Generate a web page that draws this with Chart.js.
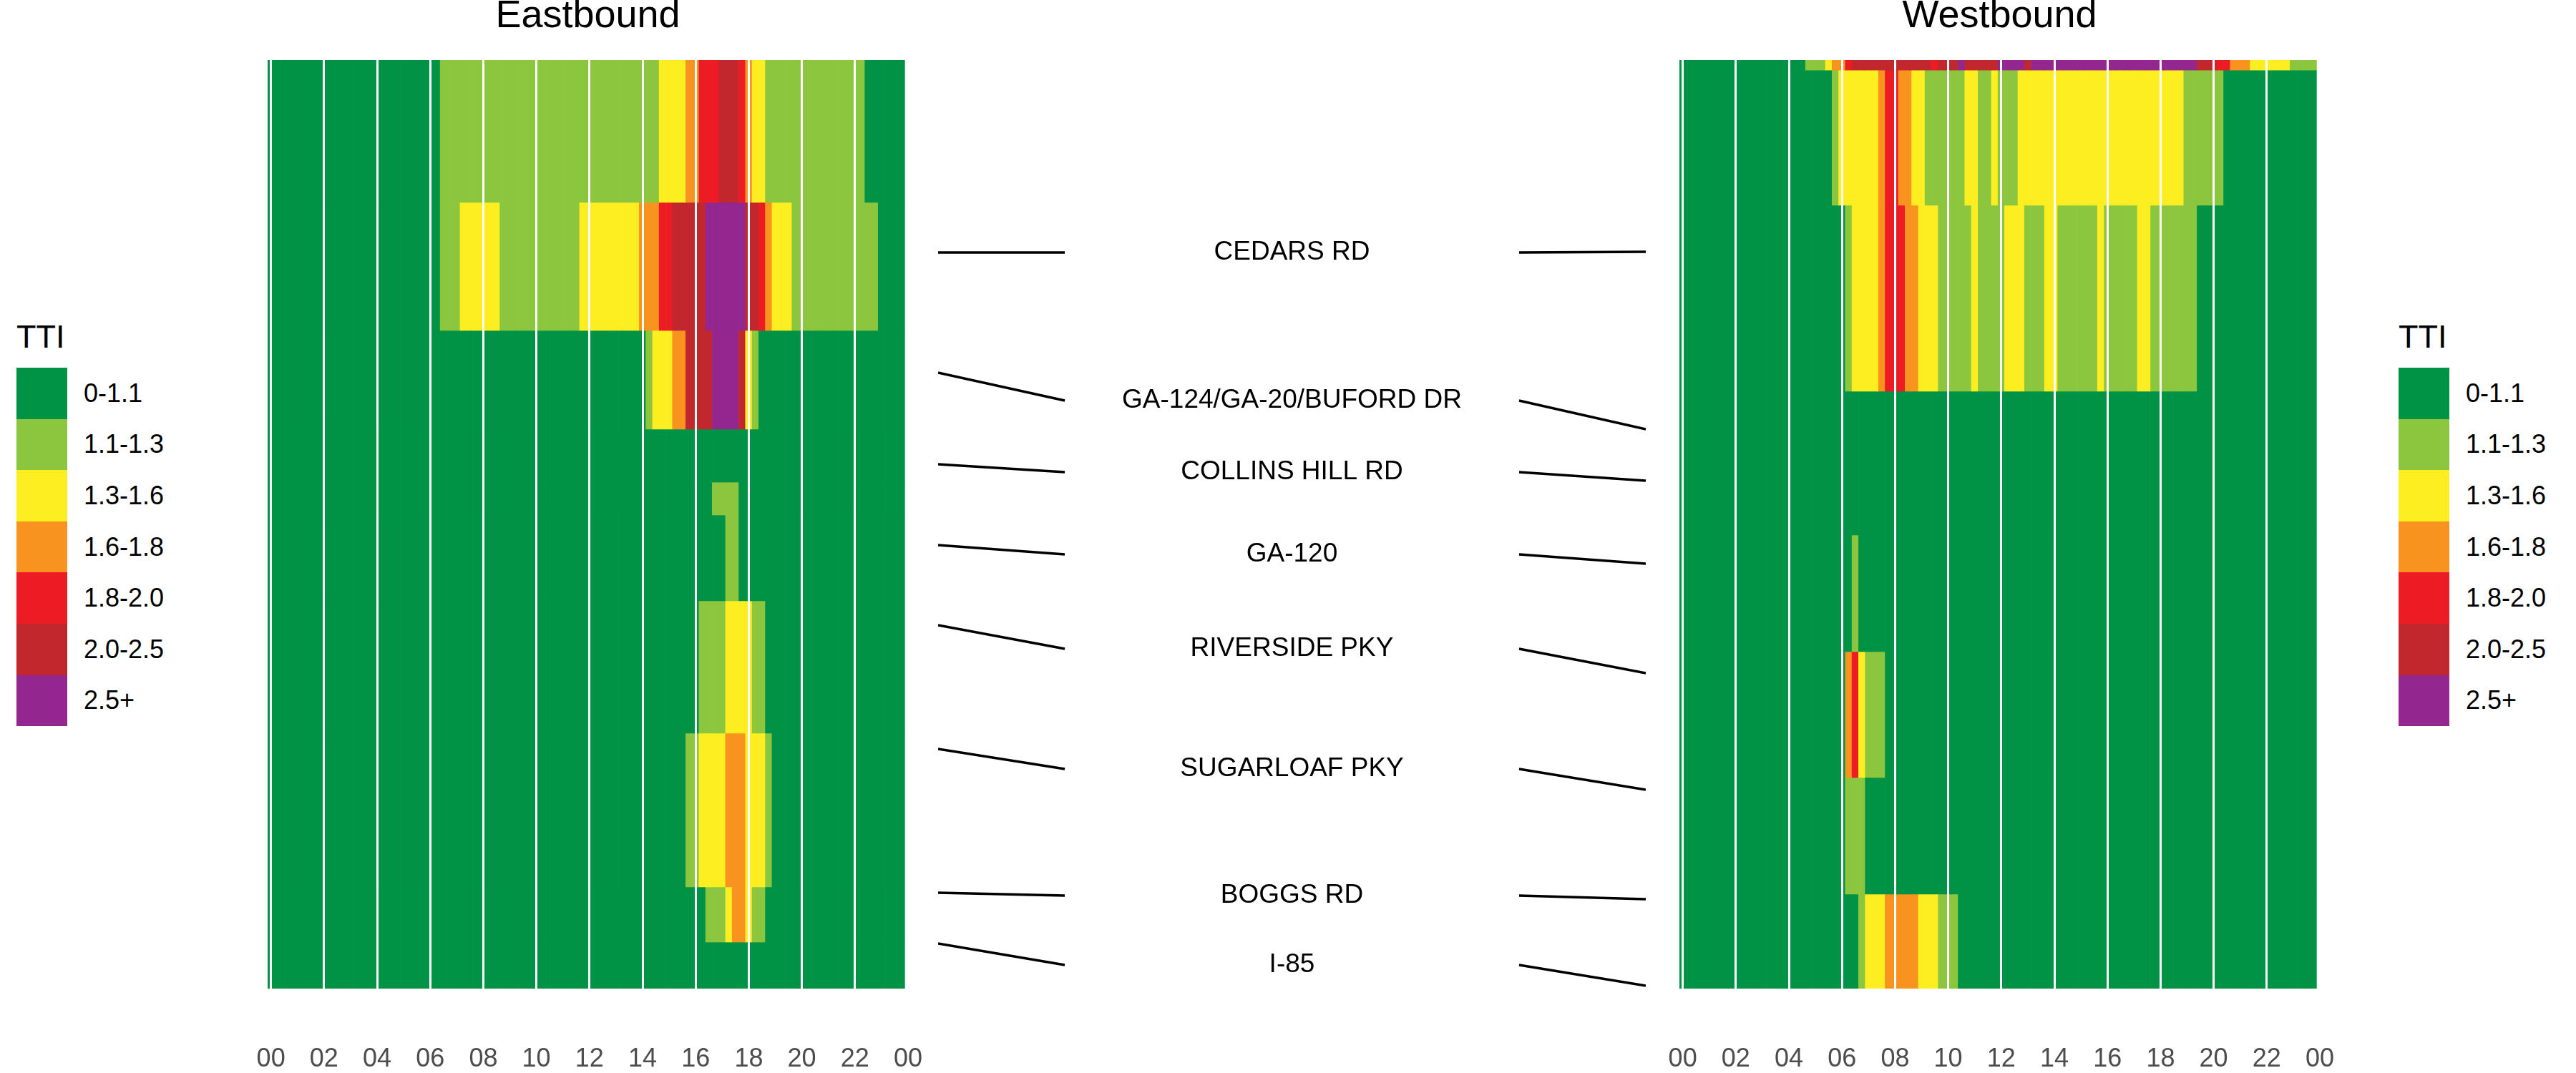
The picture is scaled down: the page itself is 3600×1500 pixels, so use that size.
<!DOCTYPE html>
<html>
<head>
<meta charset="utf-8">
<script src="https://cdn.jsdelivr.net/npm/chart.js@4.4.1/dist/chart.umd.min.js"></script>
<style>
  html, body { margin:0; padding:0; background:#fff; width:3600px; height:1500px; overflow:hidden;
    font-family:"Liberation Sans", Arial, sans-serif; }
  #wrap { position:relative; width:3600px; height:1500px; }
  canvas { position:absolute; }
  .legTitle { position:absolute; font-size:45px; line-height:45px; color:#000; white-space:nowrap; }
  .legRow { position:absolute; display:flex; align-items:center; height:71.6px; }
  .legBox { width:71px; height:71.6px; flex:none; }
  .legLab { font-size:36px; color:#000; margin-left:23px; white-space:nowrap; }
</style>
</head>
<body>
<div id="wrap">
  <canvas id="east"></canvas>
  <canvas id="mid"></canvas>
  <canvas id="west"></canvas>
</div>
<script>
// ---------- data ----------
const ttiLabels = ['0-1.1', '1.1-1.3', '1.3-1.6', '1.6-1.8', '1.8-2.0', '2.0-2.5', '2.5+'];
const ttiColors = ['#009245', '#8CC63F', '#FCEE21', '#F7931E', '#ED1C24', '#C1272D', '#93278F'];
const hourLabels = ['00','02','04','06','08','10','12','14','16','18','20','22','00'];

// 15-minute bins (tile centres, hours of day)
const timeBins = Array.from({length: 96}, (_, i) => i / 4);

// Eastbound: segment boundaries (miles, top to bottom) and TTI class per 15-min bin (one digit per bin)
const eastBounds = [12.98, 10.99, 9.20, 7.82, 7.08, 6.62, 5.42, 3.57, 1.42, 0.65, 0];
const eastTTI = [
  '00000000 00000000 00000000 00111111 11111111 11111111 11111111 11122223 34445554 32211111 11111111 11000000',
  '00000000 00000000 00000000 00111222 22211111 11111112 22222222 33344555 55666666 55432221 11111111 11110000',
  '00000000 00000000 00000000 00000000 00000000 00000000 00000000 01222335 55566665 21000000 00000000 00000000',
  '00000000 00000000 00000000 00000000 00000000 00000000 00000000 00000000 00000000 00000000 00000000 00000000',
  '00000000 00000000 00000000 00000000 00000000 00000000 00000000 00000000 00011110 00000000 00000000 00000000',
  '00000000 00000000 00000000 00000000 00000000 00000000 00000000 00000000 00000110 00000000 00000000 00000000',
  '00000000 00000000 00000000 00000000 00000000 00000000 00000000 00000000 01111222 21100000 00000000 00000000',
  '00000000 00000000 00000000 00000000 00000000 00000000 00000000 00000001 12222333 22210000 00000000 00000000',
  '00000000 00000000 00000000 00000000 00000000 00000000 00000000 00000000 00111233 21100000 00000000 00000000',
  '00000000 00000000 00000000 00000000 00000000 00000000 00000000 00000000 00000000 00000000 00000000 00000000'
];

// Westbound
const westBounds = [12.98, 12.84, 10.95, 8.35, 6.34, 4.71, 2.95, 1.32, 0];
const westTTI = [
  '00000000 00000000 00011123 34555555 55555545 55655555 66665666 66666666 66666666 66666655 54433322 22221111',
  '00000000 00000000 00000001 22222234 43322111 11122112 11122222 22222222 22222222 22221111 11000000 00000000',
  '00000000 00000000 00000000 01222234 44332221 11112111 12221112 21111112 11111221 11111100 00000000 00000000',
  '00000000 00000000 00000000 00000000 00000000 00000000 00000000 00000000 00000000 00000000 00000000 00000000',
  '00000000 00000000 00000000 00100000 00000000 00000000 00000000 00000000 00000000 00000000 00000000 00000000',
  '00000000 00000000 00000000 03421110 00000000 00000000 00000000 00000000 00000000 00000000 00000000 00000000',
  '00000000 00000000 00000000 01110000 00000000 00000000 00000000 00000000 00000000 00000000 00000000 00000000',
  '00000000 00000000 00000000 00012223 33332221 11000000 00000000 00000000 00000000 00000000 00000000 00000000'
];

// Interchanges: position on eastbound axis, label position, position on westbound axis (miles)
const interchanges = ['CEDARS RD', 'GA-124/GA-20/BUFORD DR', 'COLLINS HILL RD', 'GA-120',
                      'RIVERSIDE PKY', 'SUGARLOAF PKY', 'BOGGS RD', 'I-85'];
const eastPos  = [10.29, 8.61, 7.33, 6.20, 5.08, 3.35, 1.34, 0.63];
const labelPos = [10.29, 8.22, 7.22, 6.07, 4.75, 3.07, 1.30, 0.33];
const westPos  = [10.30, 7.82, 7.10, 5.94, 4.41, 2.78, 1.25, 0.04];

// ---------- drawing ----------
const FONT = '"Liberation Sans", Arial, sans-serif';
const YMAX = 12.98;

function place(id, left, top, w, h) {
  const c = document.getElementById(id);
  c.width = w; c.height = h;
  c.style.left = left + 'px'; c.style.top = top + 'px';
  c.style.width = w + 'px'; c.style.height = h + 'px';
  return c;
}

function makeHeat(id, left, title, bounds, rows) {
  const canvas = place(id, left, 0, 955, 1500);
  const datasets = rows.map((row, r) => {
    const codes = row.replace(/ /g, '').split('').map(Number);
    return {
      label: 'row' + r,
      data: timeBins.map(t => ({x: t, y: [bounds[r + 1], bounds[r]]})),
      backgroundColor: codes.map(c => ttiColors[c])
    };
  });
  return new Chart(canvas, {
    type: 'bar',
    data: {datasets},
    options: {
      responsive: false, animation: false, devicePixelRatio: 1,
      layout: {padding: 0},
      datasets: {bar: {grouped: false, barPercentage: 1, categoryPercentage: 1, borderWidth: 0}},
      plugins: {
        legend: {display: false},
        tooltip: {enabled: false},
        title: {display: true, text: title, color: '#000',
                font: {family: FONT, size: 54, weight: 'normal', lineHeight: 0.86},
                padding: {top: 0, bottom: 37.6}}
      },
      scales: {
        x: {
          type: 'linear', min: -0.125, max: 24, offset: false,
          afterBuildTicks: s => { s.ticks = hourLabels.map((l, i) => ({value: i * 2})); },
          afterFit: s => { s.height = 118; s.paddingLeft = 30; s.paddingRight = 30; },
          ticks: {callback: (v, i) => hourLabels[i], color: '#4D4D4D', padding: 0,
                  font: {family: FONT, size: 36}, maxRotation: 0, autoSkip: false},
          grid: {color: '#FFFFFF', tickColor: 'rgba(255,255,255,0)', lineWidth: 3, z: 1,
                 offset: false, drawTicks: true, tickLength: 77},
          border: {display: false}
        },
        y: {type: 'linear', min: 0, max: YMAX, display: false}
      }
    }
  });
}

makeHeat('east', 344, 'Eastbound', eastBounds, eastTTI);
makeHeat('west', 2317, 'Westbound', westBounds, westTTI);

// middle connector panel
const midCanvas = place('mid', 1300, 0, 1012, 1500);
const LX0 = 0, LX1 = 0.179, LXM = 0.5, RX0 = 0.821, RX1 = 1;
const midData = interchanges.map((name, i) => ({
  label: name,
  data: [{x: LX0, y: eastPos[i]}, {x: LX1, y: labelPos[i]}, {x: LXM, y: null},
         {x: RX0, y: labelPos[i]}, {x: RX1, y: westPos[i]}],
  borderColor: '#000', borderWidth: 3.4, pointRadius: 0, spanGaps: false, tension: 0, fill: false
}));
const labelPlugin = {
  id: 'interchangeLabels',
  afterDatasetsDraw(chart) {
    const {ctx, scales: {x, y}} = chart;
    ctx.save();
    ctx.font = '37px ' + FONT;
    ctx.fillStyle = '#000';
    ctx.textAlign = 'center';
    ctx.textBaseline = 'middle';
    interchanges.forEach((name, i) => {
      ctx.fillText(name, x.getPixelForValue(LXM), y.getPixelForValue(labelPos[i]));
    });
    ctx.restore();
  }
};
new Chart(midCanvas, {
  type: 'line',
  data: {datasets: midData},
  options: {
    responsive: false, animation: false, devicePixelRatio: 1,
    layout: {padding: {left: 11, right: 12, top: 84, bottom: 118}},
    plugins: {legend: {display: false}, tooltip: {enabled: false}},
    scales: {
      x: {type: 'linear', min: 0, max: 1, display: false},
      y: {type: 'linear', min: 0, max: YMAX, display: false}
    }
  },
  plugins: [labelPlugin]
});

// legends (left and right)
function makeLegend(left) {
  const wrap = document.getElementById('wrap');
  const t = document.createElement('div');
  t.className = 'legTitle';
  t.style.left = left + 'px'; t.style.top = '448px';
  t.textContent = 'TTI';
  wrap.appendChild(t);
  ttiLabels.forEach((lab, i) => {
    const row = document.createElement('div');
    row.className = 'legRow';
    row.style.left = left + 'px';
    row.style.top = (514 + i * 71.6) + 'px';
    const box = document.createElement('div');
    box.className = 'legBox';
    box.style.background = ttiColors[i];
    const txt = document.createElement('div');
    txt.className = 'legLab';
    txt.textContent = lab;
    row.appendChild(box); row.appendChild(txt);
    wrap.appendChild(row);
  });
}
makeLegend(23);
makeLegend(3352);
</script>
</body>
</html>
